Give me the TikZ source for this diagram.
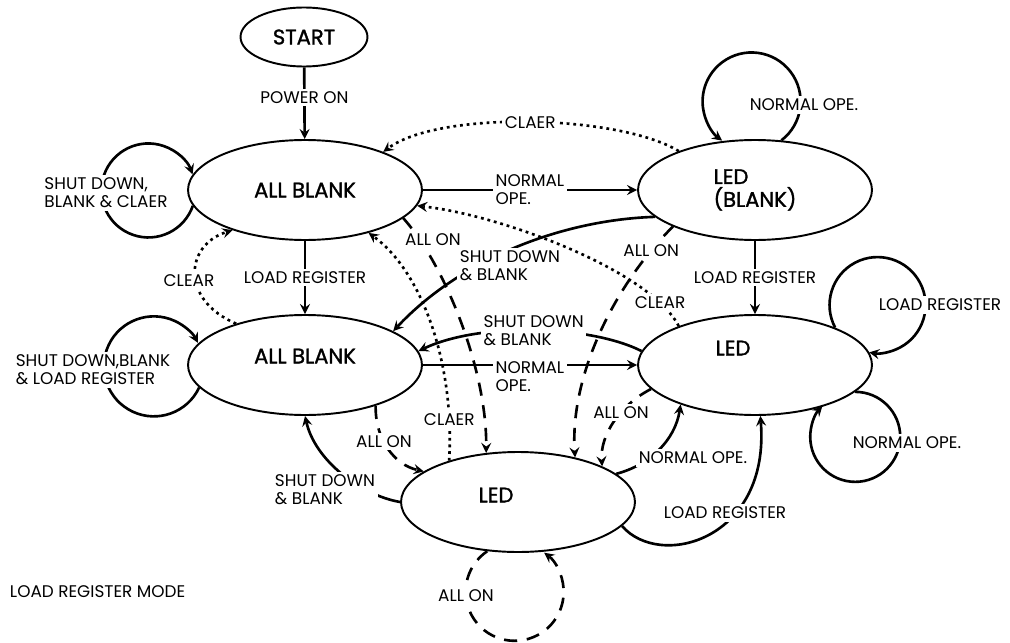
\documentclass[tikz,border=0pt]{standalone}
\usepackage{fontspec}
\setmainfont{Poppins}
\newfontfamily\statefont{Poppins}[FakeBold=1.4]
\usepackage{tikz}
\usetikzlibrary{shapes.geometric}

\begin{document}
\begin{tikzpicture}[x=0.02cm, y=-0.02cm, >=stealth,
    statebox/.style={ellipse, draw, line width=1.1pt, inner sep=0pt,
        minimum width=4.68cm, minimum height=2cm, align=left,
        font=\statefont\fontsize{12}{13}\selectfont},
    statetext/.style={align=left, font=\statefont\fontsize{12}{13}\selectfont},
    lbl/.style={fill=white, inner sep=1.5pt, align=left,
        font=\fontsize{9.6}{10.2}\selectfont},
    flow/.style={->, line width=1.5pt},
    dashflow/.style={flow, dash pattern=on 7.5pt off 5.5pt},
    dotflow/.style={flow, dash pattern=on 1.6pt off 2.2pt}]
    \useasboundingbox (0,0) rectangle (1010,642);

    % states
    \node[statebox, minimum width=2.54cm, minimum height=1.18cm] (start) at (304,37) {START};
    \node[statebox] (allblank) at (305,190) {ALL BLANK};
    \node[statebox] (ledblank) at (755,190) {LED\\(BLANK)};
    \node[statebox, label={[statetext, yshift=0.18cm]center:ALL BLANK}] (blankload) at (305,365) {};
    \node[statebox, label={[statetext, xshift=-0.44cm, yshift=0.34cm]center:LED}] (ledload) at (755,365) {};
    \node[statebox, label={[statetext, xshift=-0.44cm, yshift=0.14cm]center:LED}] (ledon) at (518,502) {};
    \node[lbl, anchor=west] (mode) at (7,592) {LOAD REGISTER MODE};

    % straight transitions
    \draw[flow] (start) -- node[lbl, pos=0.42] {POWER ON} (allblank);
    \draw[flow] (allblank) -- node[lbl] {LOAD REGISTER} (blankload);
    \draw[flow] (ledblank) -- node[lbl] {LOAD REGISTER} (ledload);
    \draw[flow] (allblank.east) -- node[lbl] {NORMAL\\OPE.} (ledblank.west);
    \draw[flow] (blankload.east) -- node[lbl, yshift=-0.24cm] {NORMAL\\OPE.} (ledload.west);

    % clear
    \draw[dotflow] (ledblank.153) .. controls (620,115) and (440,110) .. (allblank.26)
        node[lbl, pos=0.5] {CLAER};
    \draw[dotflow] (ledload.153) .. controls (650,270) and (500,215) .. (allblank.-8)
        node[lbl, pos=0.14] {CLEAR};
    \draw[dotflow] (ledon.149) .. controls (455,360) and (420,270) .. (allblank.-34)
        node[lbl, pos=0.14] {CLAER};
    \draw[dotflow] (blankload.149) .. controls (180,300) and (185,245) .. (allblank.209)
        node[lbl, at={(189,281)}] {CLEAR};

    % shut down & blank
    \draw[flow] (ledblank.195) .. controls (560,220) and (460,260) .. (blankload.21)
        node[lbl, at={(510,266)}] {SHUT DOWN\\\& BLANK};
    \draw[flow] (ledload.173) .. controls (590,325) and (480,322) .. (blankload.7)
        node[lbl, pos=0.5] {SHUT DOWN\\\& BLANK};
    \draw[flow] (ledon.180) .. controls (360,495) and (315,460) .. (blankload.-90)
        node[lbl, at={(325,490)}] {SHUT DOWN\\\& BLANK};

    % all on
    \draw[dashflow] (allblank.-16) .. controls (445,265) and (487,370) .. (ledon.123)
        node[lbl, at={(433,240)}] {ALL ON};
    \draw[dashflow] (blankload.-30) .. controls (375,440) and (395,465) .. (ledon.162)
        node[lbl, pos=0.4] {ALL ON};
    \draw[dashflow] (ledblank.204) .. controls (610,290) and (570,380) .. (ledon.38)
        node[lbl, pos=0.12] {ALL ON};
    \draw[dashflow] (ledload.193) .. controls (620,405) and (600,435) .. (ledon.23)
        node[lbl, pos=0.38] {ALL ON};

    % normal ope. and load register into LED
    \draw[flow] (ledon.16) .. controls (650,465) and (675,440) .. (ledload.208)
        node[lbl, at={(693,458)}] {NORMAL OPE.};
    \draw[flow] (ledon.-13) .. controls (660,570) and (770,540) .. (ledload.-84)
        node[lbl, at={(725,513)}] {LOAD REGISTER};

    % self loops
    \draw[flow] (allblank.188) arc[start angle=19, end angle=340, radius=47]
        node[lbl, at={(106,193)}] {SHUT DOWN,\\BLANK \& CLAER};
    \draw[flow] (blankload.192) arc[start angle=25, end angle=332, radius=50]
        node[lbl, at={(93,370)}] {SHUT DOWN,BLANK\\\& LOAD REGISTER};
    \draw[flow] (ledblank.62) arc[start angle=52.5, end angle=-233, radius=49]
        node[lbl, at={(804,105)}] {NORMAL OPE.};
    \draw[flow] (ledload.25) arc[start angle=152, end angle=460, radius=48]
        node[lbl, at={(940,305)}] {LOAD REGISTER};
    \draw[flow] (ledload.-15.4) arc[start angle=270, end angle=583, radius=45]
        node[lbl, at={(907,443)}] {NORMAL OPE.};
    \draw[dashflow] (ledon.238) arc[start angle=236, end angle=-53, radius=49]
        node[lbl, at={(466,596)}] {ALL ON};
\end{tikzpicture}
\end{document}
